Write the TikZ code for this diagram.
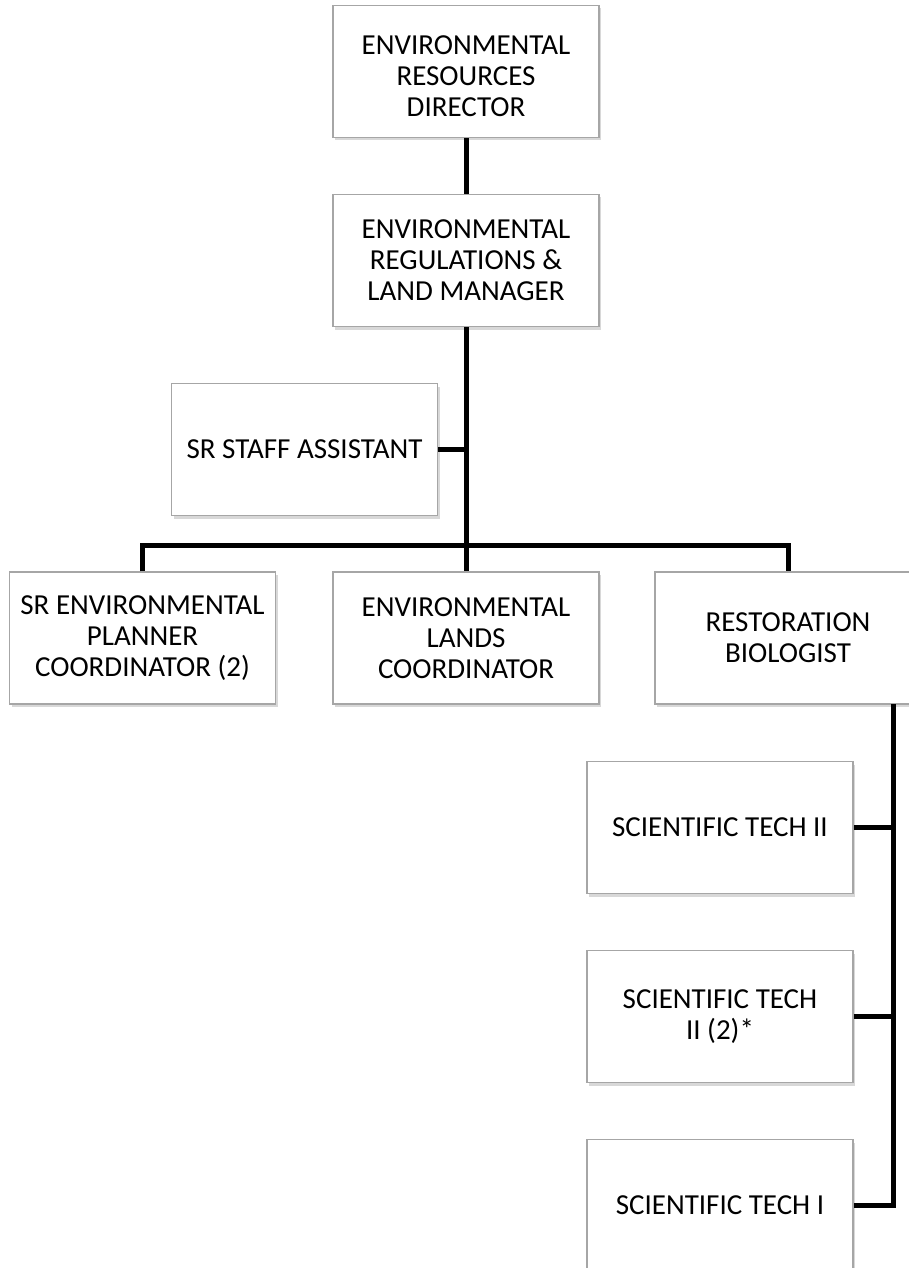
\documentclass[tikz,border=0pt]{standalone}
\usepackage{fontspec}
\setmainfont{Carlito}
\usetikzlibrary{shadows}
\definecolor{boxline}{HTML}{A6A6A6}
\tikzset{
  boxfont/.style={align=center, font=\fontsize{29}{31}\selectfont},
  orgbox/.style={draw=boxline, line width=1.5pt, fill=white,
    minimum width=266pt, minimum height=132pt, inner sep=0pt, boxfont,
    drop shadow={shadow xshift=2pt, shadow yshift=-3pt, fill=black!30, opacity=.5}},
  conn/.style={line width=5pt, black, line join=miter}
}
\begin{document}
\begin{tikzpicture}[x=1pt, y=-1pt]
  \useasboundingbox (0,0) rectangle (909,1268);
  \fill[white] (0,0) rectangle (909,1268);

  % boxes
  \node[orgbox, label={[boxfont, inner sep=0pt, yshift=-5pt]center:ENVIRONMENTAL\\RESOURCES\\DIRECTOR}]
        (dir) at (466,71.5) {};
  \node[orgbox] (mgr)     at (466,260.5)  {ENVIRONMENTAL\\REGULATIONS \&\\LAND MANAGER};
  \node[orgbox] (staff)   at (304.5,449.5) {SR STAFF ASSISTANT};
  \node[orgbox] (planner) at (142.5,638)  {SR ENVIRONMENTAL\\PLANNER\\COORDINATOR (2)};
  \node[orgbox] (lands)   at (466,638)    {ENVIRONMENTAL\\LANDS\\COORDINATOR};
  \node[orgbox] (rest)    at (788,638)    {RESTORATION\\BIOLOGIST};
  \node[orgbox] (techA)   at (720,827.5)  {SCIENTIFIC TECH II};
  \node[orgbox] (techB)   at (720,1016.5) {SCIENTIFIC TECH\\II (2)*};
  \node[orgbox] (techC)   at (720,1205.5) {SCIENTIFIC TECH I};

  % connectors
  \coordinate (bus)  at (466,545);
  \coordinate (rtap) at (893,704);
  \draw[conn] (dir.south) -- (mgr.north);
  \draw[conn] (mgr.south) -- (lands.north);
  \draw[conn] (staff.east) -- (staff.east -| mgr.south);
  \draw[conn] (planner.north) |- (bus) -| (rest.north);
  \draw[conn] (rtap) |- (techC.east);
  \draw[conn] (techA.east) -- (techA.east -| rtap);
  \draw[conn] (techB.east) -- (techB.east -| rtap);
\end{tikzpicture}
\end{document}
